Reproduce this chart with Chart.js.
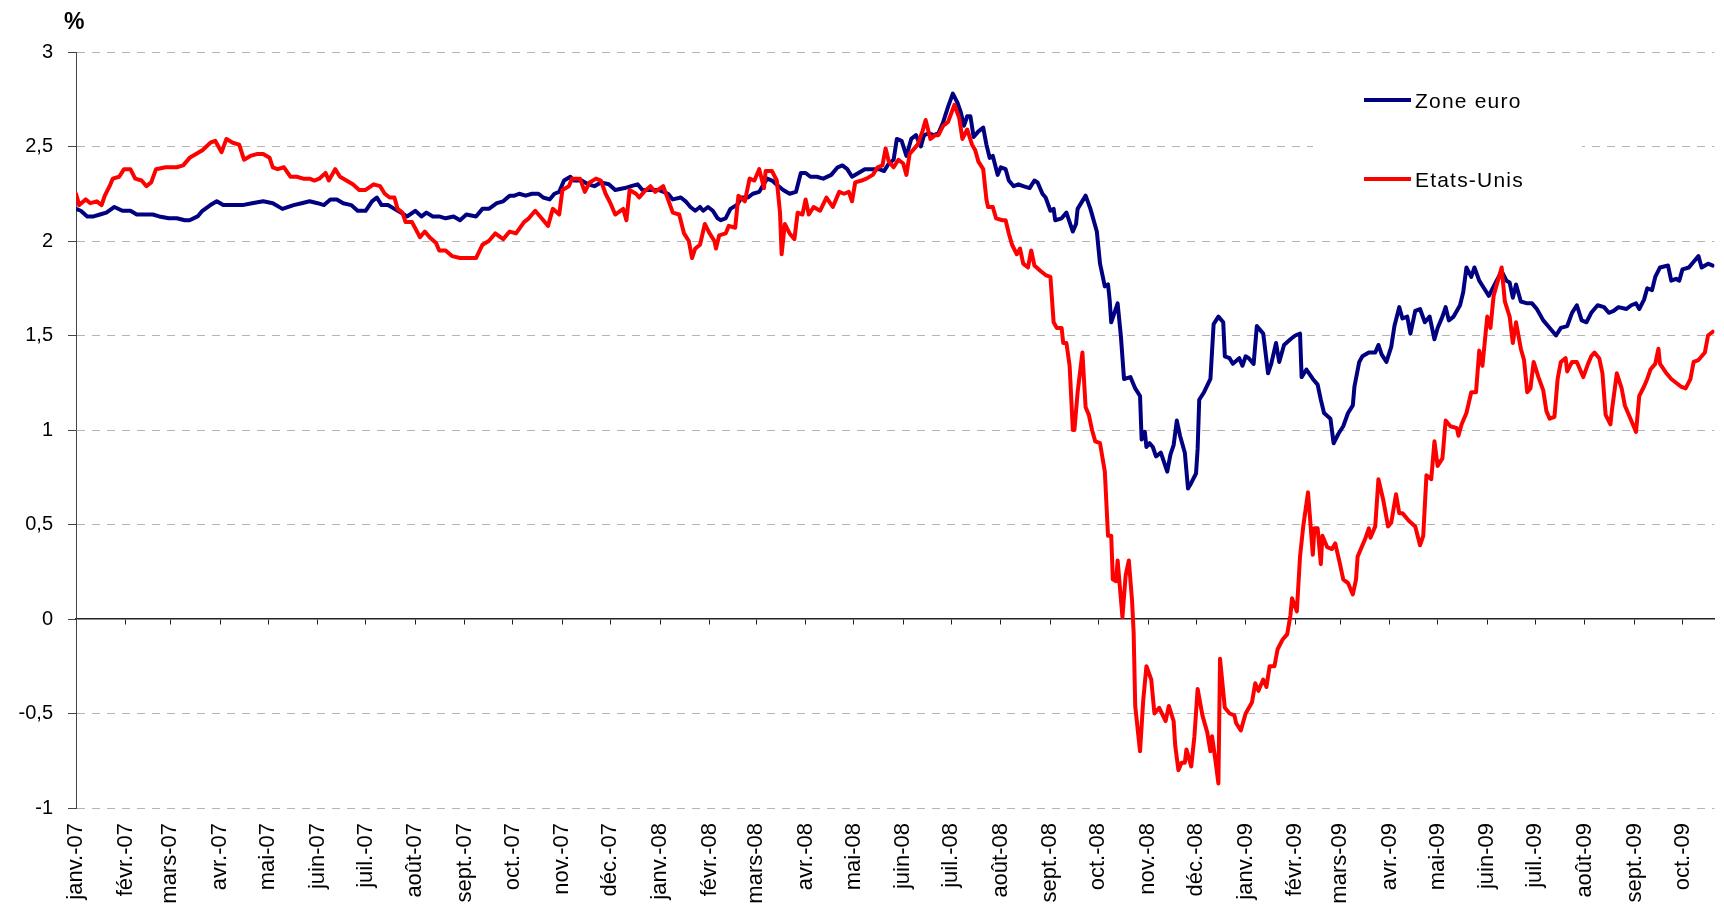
<!DOCTYPE html>
<html>
<head>
<meta charset="utf-8">
<script src="https://cdn.jsdelivr.net/npm/chart.js@4.4.1/dist/chart.umd.min.js"></script>
<style>
  html, body { margin: 0; padding: 0; background: #fff; }
</style>
</head>
<body>
<canvas id="rateChart" width="1724" height="909"></canvas>
<script>
// Month tick labels (one per month start, from Jan 2007)
const monthLabels = [
  'janv.-07', 'févr.-07', 'mars-07', 'avr.-07', 'mai-07', 'juin-07', 'juil.-07', 'août-07', 'sept.-07', 'oct.-07', 'nov.-07', 'déc.-07',
  'janv.-08', 'févr.-08', 'mars-08', 'avr.-08', 'mai-08', 'juin-08', 'juil.-08', 'août-08', 'sept.-08', 'oct.-08', 'nov.-08', 'déc.-08',
  'janv.-09', 'févr.-09', 'mars-09', 'avr.-09', 'mai-09', 'juin-09', 'juil.-09', 'août-09', 'sept.-09', 'oct.-09'
];

// Zone euro: days since 1 Jan 2007 and rate (%)
const euDays = [0,3,7,11,15,19,24,29,34,38,44,48,52,58,63,68,71,76,79,84,88,92,98,104,110,117,123,129,136,141,146,151,155,159,163,167,172,176,181,185,188,191,195,199,203,207,212,216,219,223,227,231,236,240,244,250,254,258,263,267,271,274,277,281,285,289,292,296,299,302,305,309,311,316,320,324,328,333,337,343,347,351,354,359,364,370,373,378,381,384,387,390,392,395,398,401,403,406,409,413,416,420,423,427,429,432,435,439,442,446,450,453,456,459,463,467,472,476,479,482,485,489,493,498,502,505,508,511,513,516,519,522,525,528,530,533,536,539,542,545,548,551,553,555,557,559,561,564,567,569,571,573,576,578,581,583,586,589,592,596,599,601,604,606,609,611,612,616,619,621,623,625,626,631,634,638,640,643,645,646,647,649,651,653,655,659,662,665,666,668,669,671,673,675,678,682,684,686,688,690,693,695,697,700,701,702,705,709,711,714,717,718,721,723,727,729,731,733,736,738,742,745,747,750,752,755,759,762,765,766,769,773,776,778,780,784,786,789,792,795,798,799,802,804,808,812,814,816,819,822,824,827,829,832,834,837,840,843,846,849,851,854,856,858,861,865,867,869,872,874,877,880,883,886,891,894,896,898,900,903,907,910,913,917,920,922,925,928,932,935,938,941,944,947,951,955,958,961,964,969,972,975,977,980,982,985,987,990,995,997,1000,1002,1004,1008,1011,1014,1016,1020,1023];
const euRate = [2.17,2.16,2.13,2.13,2.14,2.15,2.18,2.16,2.16,2.14,2.14,2.14,2.13,2.12,2.12,2.11,2.11,2.13,2.16,2.19,2.21,2.19,2.19,2.19,2.20,2.21,2.20,2.17,2.19,2.20,2.21,2.20,2.19,2.22,2.22,2.20,2.19,2.16,2.16,2.21,2.23,2.19,2.19,2.17,2.15,2.13,2.16,2.13,2.15,2.13,2.13,2.12,2.13,2.11,2.14,2.13,2.17,2.17,2.20,2.21,2.24,2.24,2.25,2.24,2.25,2.25,2.23,2.22,2.25,2.26,2.32,2.34,2.32,2.32,2.30,2.29,2.31,2.30,2.27,2.28,2.29,2.30,2.27,2.27,2.27,2.25,2.22,2.23,2.21,2.18,2.16,2.18,2.16,2.18,2.16,2.12,2.11,2.12,2.17,2.19,2.23,2.23,2.25,2.26,2.29,2.33,2.32,2.29,2.27,2.25,2.26,2.36,2.36,2.34,2.34,2.33,2.35,2.39,2.40,2.38,2.34,2.36,2.38,2.38,2.38,2.37,2.41,2.43,2.54,2.53,2.45,2.54,2.56,2.50,2.56,2.57,2.56,2.57,2.63,2.71,2.78,2.73,2.68,2.61,2.66,2.66,2.55,2.58,2.60,2.51,2.44,2.45,2.35,2.39,2.38,2.32,2.29,2.30,2.29,2.28,2.32,2.31,2.25,2.23,2.16,2.17,2.11,2.12,2.15,2.10,2.05,2.09,2.17,2.24,2.17,2.05,1.88,1.76,1.77,1.69,1.57,1.62,1.67,1.50,1.27,1.28,1.22,1.18,0.95,0.99,0.91,0.93,0.91,0.86,0.88,0.78,0.87,0.92,1.05,0.97,0.88,0.69,0.72,0.77,0.90,1.16,1.20,1.27,1.56,1.60,1.57,1.39,1.38,1.35,1.38,1.34,1.39,1.38,1.35,1.55,1.51,1.30,1.35,1.46,1.36,1.45,1.48,1.50,1.51,1.28,1.32,1.27,1.24,1.16,1.09,1.06,0.93,0.98,1.02,1.09,1.13,1.23,1.36,1.39,1.41,1.41,1.45,1.40,1.36,1.44,1.55,1.65,1.59,1.60,1.51,1.63,1.64,1.57,1.60,1.48,1.54,1.60,1.65,1.58,1.60,1.66,1.73,1.86,1.81,1.86,1.79,1.75,1.71,1.76,1.84,1.79,1.78,1.70,1.77,1.68,1.67,1.67,1.64,1.58,1.55,1.53,1.50,1.54,1.55,1.62,1.66,1.58,1.57,1.62,1.66,1.65,1.62,1.63,1.65,1.64,1.66,1.67,1.64,1.69,1.75,1.74,1.81,1.86,1.87,1.79,1.80,1.79,1.85,1.86,1.89,1.92,1.86,1.88,1.87];

// Etats-Unis: days since 1 Jan 2007 and rate (%)
const usDays = [0,2,6,9,13,16,18,21,23,27,30,34,37,41,44,47,50,56,59,63,67,71,75,79,84,87,91,94,98,102,105,109,113,117,121,123,126,130,134,138,142,146,149,152,156,158,162,165,169,173,177,181,186,190,193,196,199,201,204,206,210,215,218,221,225,227,231,235,240,246,250,254,258,262,267,271,275,280,283,287,291,295,298,302,304,308,310,315,318,321,325,328,331,334,337,342,344,346,350,352,355,359,362,367,370,373,377,380,383,385,387,390,393,396,399,400,402,406,408,412,414,418,421,424,427,430,431,435,438,440,441,443,446,449,451,454,456,458,461,465,469,473,477,480,483,485,487,491,494,498,501,504,506,508,511,514,517,519,521,526,529,531,534,537,539,542,545,549,552,554,557,560,562,564,567,569,570,573,575,579,581,583,585,588,590,592,595,597,599,603,606,609,611,613,616,617,619,621,623,624,626,629,631,633,635,637,640,643,645,647,648,650,651,654,656,658,660,661,662,665,667,669,672,674,677,681,683,686,687,689,691,693,694,697,699,701,704,707,709,710,712,714,715,718,721,724,725,728,731,735,737,739,742,744,746,749,751,754,757,759,760,763,765,767,770,773,774,776,778,779,782,785,787,790,792,795,798,800,801,804,806,808,809,812,814,817,820,822,825,827,829,833,837,840,842,844,847,849,851,854,856,859,863,864,866,869,872,875,877,879,882,884,886,891,893,896,898,900,903,905,907,909,911,914,917,919,921,924,926,928,931,932,935,938,942,945,947,949,952,954,956,959,960,963,966,968,971,975,977,980,982,984,987,989,990,994,997,1000,1003,1006,1009,1011,1014,1018,1020,1023];
const usRate = [2.25,2.19,2.22,2.20,2.21,2.19,2.24,2.29,2.33,2.34,2.38,2.38,2.33,2.32,2.29,2.31,2.38,2.39,2.39,2.39,2.40,2.44,2.46,2.48,2.52,2.53,2.47,2.54,2.52,2.51,2.43,2.45,2.46,2.46,2.44,2.39,2.38,2.39,2.34,2.34,2.33,2.33,2.32,2.33,2.36,2.32,2.38,2.34,2.32,2.30,2.27,2.27,2.30,2.29,2.25,2.23,2.23,2.17,2.15,2.10,2.10,2.02,2.05,2.02,1.99,1.95,1.95,1.92,1.91,1.91,1.91,1.98,2.00,2.04,2.01,2.05,2.04,2.10,2.12,2.16,2.12,2.08,2.17,2.14,2.27,2.29,2.33,2.33,2.26,2.31,2.33,2.32,2.25,2.20,2.14,2.17,2.11,2.27,2.25,2.23,2.26,2.29,2.26,2.29,2.22,2.15,2.14,2.04,2.00,1.91,1.96,1.98,2.09,2.04,2.00,1.96,2.03,2.04,2.08,2.07,2.24,2.21,2.33,2.32,2.38,2.28,2.37,2.37,2.32,2.15,1.93,2.09,2.04,2.01,2.15,2.14,2.22,2.14,2.18,2.16,2.23,2.18,2.26,2.25,2.26,2.21,2.31,2.32,2.33,2.35,2.39,2.40,2.49,2.42,2.39,2.43,2.41,2.35,2.46,2.51,2.58,2.64,2.54,2.56,2.56,2.61,2.63,2.72,2.65,2.54,2.59,2.51,2.48,2.42,2.38,2.22,2.18,2.18,2.12,2.11,2.11,2.04,1.98,1.93,1.96,1.88,1.86,1.95,1.87,1.84,1.82,1.81,1.57,1.54,1.54,1.46,1.46,1.34,1.00,1.00,1.20,1.41,1.12,1.08,1.00,0.94,0.93,0.78,0.44,0.44,0.21,0.20,0.31,0.01,0.23,0.31,0.10,-0.07,-0.46,-0.70,-0.43,-0.25,-0.32,-0.50,-0.47,-0.54,-0.46,-0.54,-0.67,-0.80,-0.76,-0.76,-0.69,-0.78,-0.62,-0.37,-0.51,-0.60,-0.70,-0.62,-0.74,-0.87,-0.21,-0.47,-0.50,-0.51,-0.55,-0.59,-0.50,-0.44,-0.34,-0.38,-0.32,-0.36,-0.25,-0.25,-0.16,-0.11,-0.08,0.02,0.11,0.04,0.33,0.49,0.67,0.34,0.48,0.48,0.29,0.44,0.38,0.37,0.40,0.29,0.21,0.19,0.13,0.21,0.33,0.39,0.43,0.48,0.43,0.49,0.74,0.63,0.49,0.51,0.66,0.56,0.56,0.52,0.49,0.39,0.44,0.76,0.74,0.94,0.81,0.85,1.05,1.02,1.01,0.97,1.03,1.09,1.20,1.20,1.42,1.34,1.60,1.54,1.71,1.86,1.68,1.60,1.46,1.57,1.43,1.37,1.20,1.22,1.36,1.28,1.21,1.10,1.06,1.07,1.27,1.36,1.38,1.31,1.36,1.36,1.28,1.35,1.39,1.41,1.38,1.30,1.08,1.03,1.11,1.30,1.22,1.13,1.07,0.99,1.18,1.23,1.27,1.32,1.35,1.43,1.35,1.30,1.27,1.25,1.23,1.22,1.27,1.36,1.37,1.41,1.50,1.52];

const dayMax = 1024;

// Day offset of each month start, used for the month ticks
const monthStarts = monthLabels.map((_, i) => (Date.UTC(2007, i, 1) - Date.UTC(2007, 0, 1)) / 86400000);

function toPoints(days, values) {
  return days.map((d, i) => ({ x: d, y: values[i] }));
}

function setMonthTicks(scale) {
  scale.ticks = monthStarts.map(v => ({ value: v }));
}

const fontFamily = "'Liberation Sans', Arial, sans-serif";

// Legend box inside the plot + the "%" unit label
const legendBox = {
  id: 'legendBox',
  beforeDatasetsDraw(chart) {
    const c = chart.ctx;
    const items = [
      { text: 'Zone euro', color: '#000080', y: 100 },
      { text: 'Etats-Unis', color: '#ff0000', y: 179 }
    ];
    c.save();
    c.fillStyle = '#ffffff';
    c.fillRect(1313, 62, 269, 160);
    items.forEach(item => {
      c.strokeStyle = item.color;
      c.lineWidth = 4;
      c.beginPath();
      c.moveTo(1364, item.y);
      c.lineTo(1411, item.y);
      c.stroke();
      c.fillStyle = '#000';
      c.font = '21px ' + fontFamily;
      c.letterSpacing = '1.2px';
      c.textBaseline = 'middle';
      c.textAlign = 'left';
      c.fillText(item.text, 1415, item.y + 2);
    });
    c.restore();
  },
  afterDraw(chart) {
    const c = chart.ctx;
    c.save();
    c.fillStyle = '#000';
    c.font = 'bold 23px ' + fontFamily;
    c.textBaseline = 'alphabetic';
    c.fillText('%', 64, 29);
    c.restore();
  }
};

const rateChart = new Chart(document.getElementById('rateChart'), {
  type: 'line',
  data: {
    datasets: [
      { label: 'Zone euro', data: toPoints(euDays, euRate), borderColor: '#000080', order: 2 },
      { label: 'Etats-Unis', data: toPoints(usDays, usRate), borderColor: '#ff0000', order: 1 }
    ]
  },
  options: {
    responsive: false,
    animation: false,
    devicePixelRatio: 1,
    layout: { padding: { top: 52, right: 8, left: 0, bottom: 0 } },
    elements: {
      point: { radius: 0 },
      line: { borderWidth: 4, tension: 0, borderJoinStyle: 'round', borderCapStyle: 'round' }
    },
    plugins: {
      legend: { display: false },
      tooltip: { enabled: false }
    },
    scales: {
      x: {
        type: 'linear',
        min: 0,
        max: dayMax,
        afterBuildTicks: setMonthTicks,
        afterFit: s => { s.height = 101; },
        grid: { display: false, drawTicks: false },
        border: { display: false },
        ticks: {
          autoSkip: false,
          minRotation: 90,
          maxRotation: 90,
          padding: 15,
          color: '#000',
          font: { family: fontFamily, size: 22 },
          callback: v => monthLabels[monthStarts.indexOf(v)]
        }
      },
      zeroAxis: {
        axis: 'x',
        type: 'linear',
        position: { y: 0 },
        min: 0,
        max: dayMax,
        afterBuildTicks: setMonthTicks,
        ticks: { display: false },
        grid: { drawOnChartArea: false, drawTicks: true, tickLength: 5, tickColor: '#222', tickWidth: 1 },
        border: { color: '#222', width: 1.5 }
      },
      y: {
        min: -1,
        max: 3,
        afterFit: s => { s.width = 76; },
        ticks: {
          stepSize: 0.5,
          padding: 15,
          color: '#000',
          font: { family: fontFamily, size: 20 },
          callback: v => String(v).replace('.', ',')
        },
        grid: {
          color: c => (c.tick && c.tick.value === 0) ? 'rgba(0,0,0,0)' : '#b4b4b4',
          lineWidth: 1,
          tickColor: '#444',
          tickLength: 8
        },
        border: { color: '#444', width: 1, dash: [8, 7] }
      }
    }
  },
  plugins: [legendBox]
});
</script>
</body>
</html>
